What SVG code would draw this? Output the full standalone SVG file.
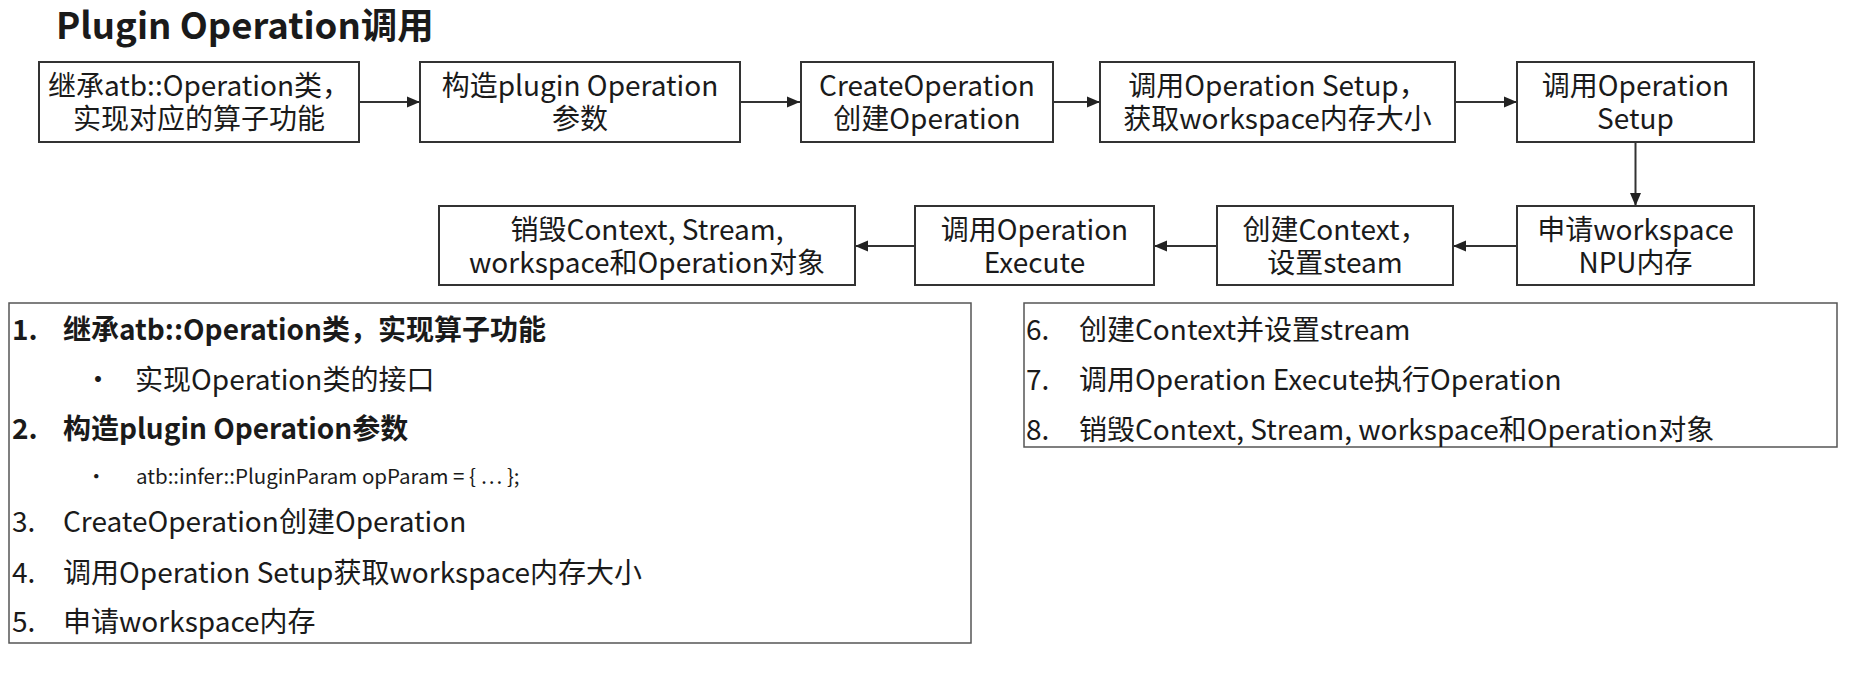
<svg xmlns="http://www.w3.org/2000/svg" width="1856" height="679" viewBox="0 0 1856 679">
<defs>
<style>
text{font-family:"Noto Sans CJK SC","Noto Sans",sans-serif;fill:#1a1a1a}
.title{font-size:36.5px;font-weight:bold}
.nt{font-size:28px;text-anchor:middle}
.box{fill:#fff;stroke:#333;stroke-width:2}
.panel{fill:#fff;stroke:#555;stroke-width:1.5}
.li{font-size:28px}
.b{font-weight:bold}
.sm{font-size:20.5px}
.conn{stroke:#333;stroke-width:2;fill:none}
</style>
<marker id="ah" markerUnits="userSpaceOnUse" markerWidth="14" markerHeight="14" viewBox="0 0 14 14" refX="13" refY="7" orient="auto">
<path d="M0,1.5 L13,7 L0,12.5 Z" fill="#222"/>
</marker>
</defs>
<rect width="1856" height="679" fill="#fff"/>
<text class="title" x="56" y="39">Plugin Operation调用</text>

<g id="connectors">
<line class="conn" x1="359" y1="102" x2="420" y2="102" marker-end="url(#ah)"/>
<line class="conn" x1="740" y1="102" x2="800" y2="102" marker-end="url(#ah)"/>
<line class="conn" x1="1053" y1="102" x2="1100" y2="102" marker-end="url(#ah)"/>
<line class="conn" x1="1455" y1="102" x2="1517" y2="102" marker-end="url(#ah)"/>
<line class="conn" x1="1635.5" y1="142" x2="1635.5" y2="206" marker-end="url(#ah)"/>
<line class="conn" x1="1517" y1="246" x2="1453" y2="246" marker-end="url(#ah)"/>
<line class="conn" x1="1217" y1="246" x2="1154" y2="246" marker-end="url(#ah)"/>
<line class="conn" x1="915" y1="246" x2="855" y2="246" marker-end="url(#ah)"/>
</g>

<g id="n1"><rect class="box" x="39" y="62" width="320" height="80"/>
<text class="nt"><tspan x="199" y="96">继承atb::Operation类，</tspan><tspan x="199" y="129">实现对应的算子功能</tspan></text></g>
<g id="n2"><rect class="box" x="420" y="62" width="320" height="80"/>
<text class="nt"><tspan x="580" y="96">构造plugin Operation</tspan><tspan x="580" y="129">参数</tspan></text></g>
<g id="n3"><rect class="box" x="801" y="62" width="252" height="80"/>
<text class="nt"><tspan x="927" y="96">CreateOperation</tspan><tspan x="927" y="129">创建Operation</tspan></text></g>
<g id="n4"><rect class="box" x="1100" y="62" width="355" height="80"/>
<text class="nt"><tspan x="1277.5" y="96">调用Operation Setup，</tspan><tspan x="1277.5" y="129">获取workspace内存大小</tspan></text></g>
<g id="n5"><rect class="box" x="1517" y="62" width="237" height="80"/>
<text class="nt"><tspan x="1635.5" y="96">调用Operation</tspan><tspan x="1635.5" y="129">Setup</tspan></text></g>
<g id="n6"><rect class="box" x="1517" y="206" width="237" height="79"/>
<text class="nt"><tspan x="1635.5" y="240">申请workspace</tspan><tspan x="1635.5" y="273">NPU内存</tspan></text></g>
<g id="n7"><rect class="box" x="1217" y="206" width="236" height="79"/>
<text class="nt"><tspan x="1335" y="240">创建Context，</tspan><tspan x="1335" y="273">设置steam</tspan></text></g>
<g id="n8"><rect class="box" x="915" y="206" width="239" height="79"/>
<text class="nt"><tspan x="1034.5" y="240">调用Operation</tspan><tspan x="1034.5" y="273">Execute</tspan></text></g>
<g id="n9"><rect class="box" x="439" y="206" width="416" height="79"/>
<text class="nt"><tspan x="647" y="240">销毁Context, Stream,</tspan><tspan x="647" y="273">workspace和Operation对象</tspan></text></g>

<g id="panel-left">
<rect class="panel" x="9" y="303" width="962" height="340"/>
<text class="li b" x="12" y="340">1.</text><text class="li b" x="63" y="340">继承atb::Operation类，实现算子功能</text>
<text class="li" x="84" y="390">•</text><text class="li" x="135" y="390">实现Operation类的接口</text>
<text class="li b" x="12" y="439">2.</text><text class="li b" x="63" y="439">构造plugin Operation参数</text>
<text class="sm" x="86" y="484">•</text><text class="sm" x="136" y="484">atb::infer::PluginParam opParam = { … };</text>
<text class="li" x="12" y="532">3.</text><text class="li" x="63" y="532">CreateOperation创建Operation</text>
<text class="li" x="12" y="583">4.</text><text class="li" x="63" y="583">调用Operation Setup获取workspace内存大小</text>
<text class="li" x="12" y="632">5.</text><text class="li" x="63" y="632">申请workspace内存</text>
</g>
<g id="panel-right">
<rect class="panel" x="1024" y="303" width="813" height="144"/>
<text class="li" x="1026" y="340">6.</text><text class="li" x="1079" y="340">创建Context并设置stream</text>
<text class="li" x="1026" y="390">7.</text><text class="li" x="1079" y="390">调用Operation Execute执行Operation</text>
<text class="li" x="1026" y="440">8.</text><text class="li" x="1079" y="440">销毁Context, Stream, workspace和Operation对象</text>
</g>
</svg>
